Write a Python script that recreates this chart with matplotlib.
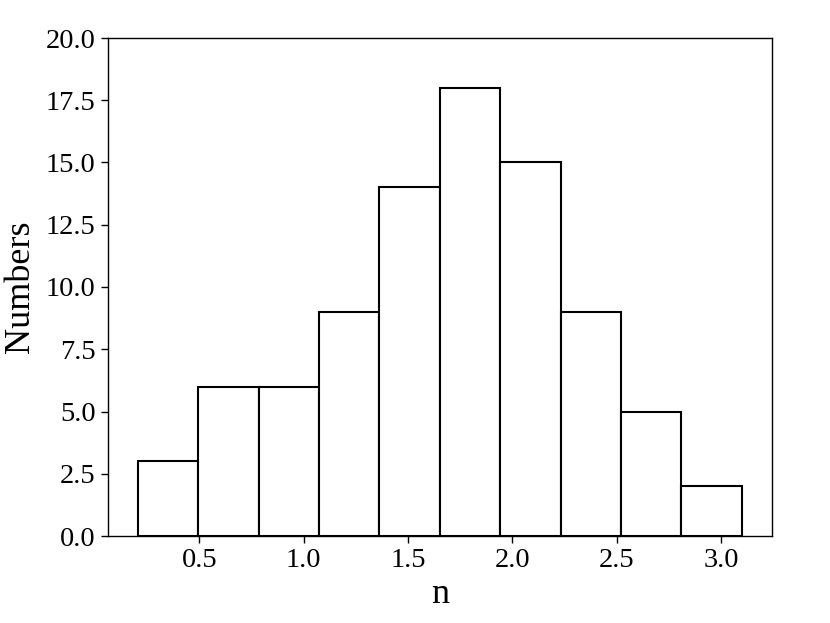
import matplotlib
matplotlib.use("Agg")
import matplotlib.pyplot as plt
import numpy as np

plt.rcParams['font.family'] = ['Liberation Serif', 'DejaVu Serif']

bin_edges = np.linspace(0.205, 3.1, 11)
counts = [3, 6, 6, 9, 14, 18, 15, 9, 5, 2]
xlabel = "n"
ylabel = "Numbers"

fig = plt.figure(figsize=(8.30, 6.23), dpi=100)
ax = fig.add_axes([107.5/830, 1-536/623, (772-107.5)/830, (536-38)/623])
ax.hist(bin_edges[:-1], bins=bin_edges, weights=counts,
        facecolor='white', edgecolor='black', linewidth=1.5)
ax.set_ylim(0, 20)
ax.set_yticks(np.arange(0, 20.1, 2.5))
ax.set_yticklabels([f"{v:.1f}" for v in np.arange(0, 20.1, 2.5)])
ax.set_xticks([0.5, 1.0, 1.5, 2.0, 2.5, 3.0])
ax.set_xticklabels(["0.5", "1.0", "1.5", "2.0", "2.5", "3.0"])
ax.tick_params(labelsize=20.5, length=5, width=1)
for s in ax.spines.values():
    s.set_linewidth(1)
ax.set_xlabel(xlabel, fontsize=26, labelpad=4)
ax.set_ylabel(ylabel, fontsize=26, labelpad=6)
fig.savefig("out.png", dpi=100)
